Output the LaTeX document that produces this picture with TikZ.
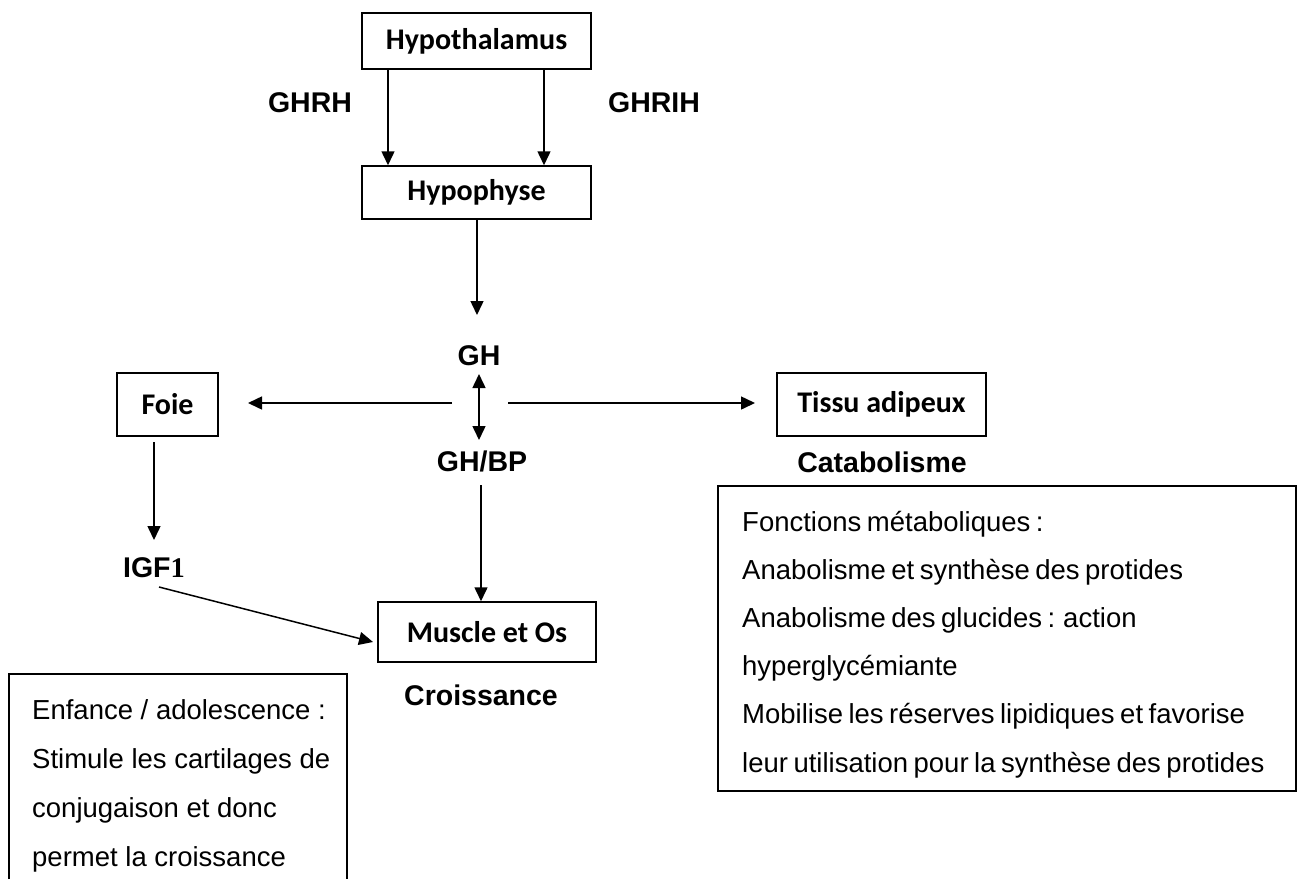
\documentclass[tikz,border=0pt]{standalone}
\usepackage{fontspec}
\setmainfont{Liberation Sans}
\newfontfamily\calfont{Carlito}
\newfontfamily\serffont{Liberation Serif}
\usetikzlibrary{arrows.meta}
\tikzset{
  x=1pt, y=-1pt,
  box/.style={draw, line width=1.5pt, inner sep=0pt, font=\calfont\bfseries\fontsize{30}{34}\selectfont},
  lbl/.style={inner sep=0pt, font=\bfseries\fontsize{28.5}{32}\selectfont},
  body/.style={inner sep=0pt, anchor=base west, font=\fontsize{27.5}{30}\selectfont},
  tight/.style={body, execute at begin node={\spaceskip=5.5pt\relax}},
  arr/.style={line width=1.5pt, -{Triangle[length=14pt,width=13pt]}},
  darr/.style={line width=1.5pt, {Triangle[length=14pt,width=13pt]}-{Triangle[length=14pt,width=13pt]}},
}
\begin{document}
\begin{tikzpicture}
\useasboundingbox (0,0) rectangle (1302,879);
% boxes
\node[box, minimum width=229pt, minimum height=56pt] (hyt) at (476.5,41) {Hypothalamus};
\node[box, minimum width=229pt, minimum height=53pt] (hyp) at (476.5,192.5) {Hypophyse};
\node[box, minimum width=101pt, minimum height=63pt] (foie) at (167.5,404.5) {Foie};
\node[box, minimum width=209pt, minimum height=63pt] (tissu) at (881.5,404.5) {Tissu adipeux};
\node[box, minimum width=218pt, minimum height=60pt] (muscle) at (487,632) {Muscle et Os};
% labels
\node[lbl] (ghrh) at (310,103) {GHRH};
\node[lbl] (ghrih) at (654,103) {GHRIH};
\node[lbl] (gh) at (479,356) {GH};
\node[lbl] (ghbp) at (482,461) {GH/BP};
\node[lbl] (igf) at (154,568) {IGF{\serffont 1}};
\node[lbl] (cata) at (882,462) {Catabolisme};
\node[lbl] (crois) at (481,695) {Croissance};
% coordinates
\coordinate (gha) at (479,374);
\coordinate (ghb) at (479,440);
\coordinate (hl) at (452,403);
\coordinate (hr) at (508,403);
\coordinate (foiet) at (248,403);
\coordinate (tissut) at (755,403);
\coordinate (ghtop) at (477,315);
\coordinate (igfs) at (159,587);
\coordinate (musl) at (373,642);
% connectors
\draw[arr] (hyt.south -| 388,0) -- (hyp.north -| 388,0);
\draw[arr] (hyt.south -| 544,0) -- (hyp.north -| 544,0);
\draw[arr] (hyp.south -| 477,0) -- (ghtop);
\draw[darr] (gha) -- (ghb);
\draw[arr] (hl) -- (foiet);
\draw[arr] (hr) -- (tissut);
\draw[arr] (481,485) -- (muscle.north -| 481,0);
\draw[arr] (154,442) -- (154,540);
\draw[arr] (igfs) -- (musl);
% metabolic box
\draw[line width=1.5pt] (718,486) rectangle (1296,791);
\foreach \t [count=\i from 0] in {Fonctions métaboliques :,Anabolisme et synthèse des protides,Anabolisme des glucides : action,hyperglycémiante,Mobilise les réserves lipidiques et favorise,leur utilisation pour la synthèse des protides}
  \node[tight] (m\i) at (742,531+48.2*\i) {\t};
% growth box
\draw[line width=1.5pt] (9,879) -- (9,674) -- (347,674) -- (347,879);
\foreach \t [count=\i from 0] in {Enfance / adolescence :,Stimule les cartilages de,conjugaison et donc,permet la croissance}
  \node[body] (e\i) at (32,719+49*\i) {\t};
\end{tikzpicture}
\end{document}
